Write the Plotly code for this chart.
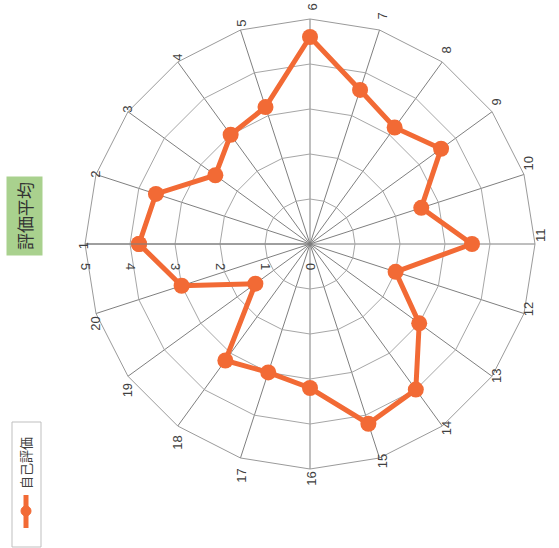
import plotly.graph_objects as go

categories = [str(i) for i in range(1, 21)]
values = [3.8, 3.6, 2.6, 3.0, 3.2, 4.6, 3.6, 3.2, 3.6, 2.6,
          3.6, 2.0, 3.0, 4.0, 4.2, 3.2, 3.0, 3.2, 1.5, 3.0]
series_name = "自己評価"
title_text = "評価平均"
radial_ticks = [0, 1, 2, 3, 4, 5]

ORANGE = "#f26a35"
FONT = "Noto Sans CJK JP, Noto Sans, sans-serif"
TICKFONT = "Liberation Sans, Arial, sans-serif"

fig = go.Figure()
fig.add_trace(go.Scatterpolar(
    r=values + values[:1],
    theta=categories + categories[:1],
    mode="lines+markers",
    line=dict(color=ORANGE, width=5),
    marker=dict(color=ORANGE, size=16),
    name=series_name,
    showlegend=False,
))

W, H = 559, 548
cx, cy, R = 310, 244, 225

fig.update_layout(
    width=W, height=H,
    margin=dict(l=0, r=0, t=0, b=0),
    paper_bgcolor="white",
    font=dict(family=FONT, color="#404040", size=12),
    polar=dict(
        domain=dict(x=[(cx - R) / W, (cx + R) / W],
                    y=[1 - (cy + R) / H, 1 - (cy - R) / H]),
        bgcolor="white",
        gridshape="linear",
        angularaxis=dict(
            type="category",
            categoryarray=categories,
            rotation=180,
            direction="clockwise",
            showline=True, linecolor="#9a9a9a", linewidth=1,
            showgrid=True, gridcolor="#7f7f7f", gridwidth=1,
            tickangle=-90,
            tickfont=dict(size=13, color="#404040", family=TICKFONT),
            ticks="",
        ),
        radialaxis=dict(
            range=[0, 5],
            tickvals=radial_ticks,
            ticktext=[str(v) for v in radial_ticks],
            angle=180,
            tickangle=-90,
            side="counterclockwise",
            showline=True, linecolor="#7f7f7f", linewidth=1,
            showgrid=True, gridcolor="#a6a6a6", gridwidth=1,
            tickfont=dict(size=13, color="#404040", family=TICKFONT),
            ticks="outside", ticklen=16, tickcolor="rgba(0,0,0,0)",
        ),
    ),
)

# Title (rotated, green background)
fig.add_annotation(
    x=25 / W, y=1 - 216 / H, xref="paper", yref="paper",
    xanchor="center", yanchor="middle",
    text=title_text, textangle=-90, showarrow=False,
    font=dict(size=17, color="#333333", family=FONT),
    bgcolor="#a9d18e", borderpad=5,
)

# Legend box
fig.add_shape(type="rect", xref="paper", yref="paper",
              x0=12 / W, x1=41 / W, y0=1 - 547 / H, y1=1 - 422 / H,
              line=dict(color="#bfbfbf", width=1), fillcolor="white")
fig.add_shape(type="line", xref="paper", yref="paper",
              x0=26 / W, x1=26 / W, y0=1 - 528 / H, y1=1 - 495 / H,
              line=dict(color=ORANGE, width=5))
fig.add_shape(type="circle", xref="paper", yref="paper",
              x0=21 / W, x1=31 / W, y0=1 - 516 / H, y1=1 - 506 / H,
              line=dict(color=ORANGE, width=1), fillcolor=ORANGE)
fig.add_annotation(
    x=25 / W, y=1 - 463 / H, xref="paper", yref="paper",
    xanchor="center", yanchor="middle",
    text=series_name, textangle=-90, showarrow=False,
    font=dict(size=13, color="#404040", family=FONT),
)

fig.write_html("out.html")
